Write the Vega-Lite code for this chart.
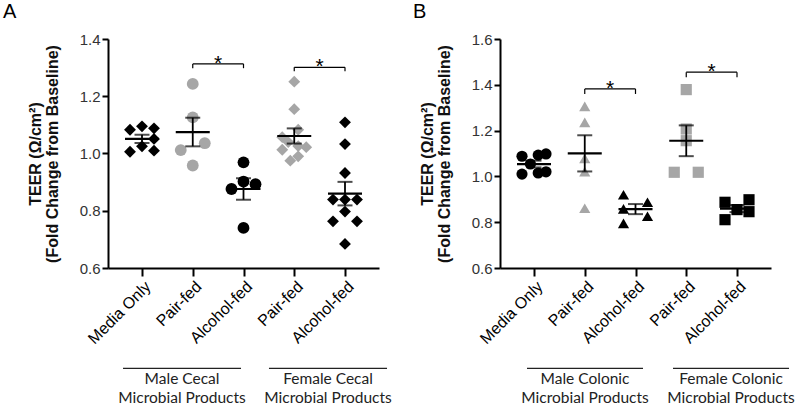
{
  "$schema": "https://vega.github.io/schema/vega-lite/v6.json",
  "padding": {"left": 3, "top": 2, "right": 0, "bottom": 0},
  "bounds": "flush",
  "spacing": 121,
  "resolve": {"scale": {"shape": "independent", "color": "independent"}},
  "config": {
    "view": {"stroke": null},
    "font": "Liberation Sans",
    "axis": {"grid": false, "domainColor": "#000", "domainWidth": 2, "tickColor": "#000", "tickWidth": 2, "labelFont": "Liberation Sans", "labelFontSize": 15, "labelColor": "#333", "titleFont": "Liberation Sans", "titleFontSize": 16, "titleFontWeight": "bold", "titleColor": "#111", "titleLineHeight": 17},
    "title": {"font": "Liberation Sans", "fontSize": 20, "fontWeight": "normal", "anchor": "start", "frame": "group", "color": "#000"}
  },
  "datasets": {
    "a": [
      {"cond": "Media", "j": -1, "v": 1.083}, {"cond": "Media", "j": 0, "v": 1.095}, {"cond": "Media", "j": 1, "v": 1.088}, {"cond": "Media", "j": 1, "v": 1.051}, {"cond": "Media", "j": 0, "v": 1.025}, {"cond": "Media", "j": -1, "v": 1.006}, {"cond": "Media", "j": 1, "v": 1.010},
      {"cond": "MP", "j": 0, "v": 1.243}, {"cond": "MP", "j": 0, "v": 1.126}, {"cond": "MP", "j": -1, "v": 1.012}, {"cond": "MP", "j": 1, "v": 1.036}, {"cond": "MP", "j": 0, "v": 0.958},
      {"cond": "MA", "j": 0, "v": 0.969}, {"cond": "MA", "j": 0, "v": 0.902}, {"cond": "MA", "j": -1, "v": 0.876}, {"cond": "MA", "j": 1, "v": 0.893}, {"cond": "MA", "j": 0, "v": 0.740},
      {"cond": "FP", "j": 0, "v": 1.251}, {"cond": "FP", "j": 0, "v": 1.155}, {"cond": "FP", "j": 0.33, "v": 1.083}, {"cond": "FP", "j": -1, "v": 1.057}, {"cond": "FP", "j": -0.5, "v": 1.040}, {"cond": "FP", "j": 0.33, "v": 1.026}, {"cond": "FP", "j": 1, "v": 1.022}, {"cond": "FP", "j": -1, "v": 1.013}, {"cond": "FP", "j": 0.33, "v": 0.990}, {"cond": "FP", "j": -0.33, "v": 0.975},
      {"cond": "FA", "j": 0, "v": 1.109}, {"cond": "FA", "j": 0, "v": 1.033}, {"cond": "FA", "j": 0, "v": 0.932}, {"cond": "FA", "j": -1, "v": 0.839}, {"cond": "FA", "j": 0, "v": 0.839}, {"cond": "FA", "j": 1, "v": 0.839}, {"cond": "FA", "j": 0, "v": 0.797}, {"cond": "FA", "j": -1, "v": 0.763}, {"cond": "FA", "j": 1, "v": 0.763}, {"cond": "FA", "j": 0, "v": 0.684}
    ],
    "b": [
      {"cond": "Media", "j": -1, "v": 1.088}, {"cond": "Media", "j": 0.35, "v": 1.093}, {"cond": "Media", "j": 1, "v": 1.098}, {"cond": "Media", "j": -0.3, "v": 1.054}, {"cond": "Media", "j": -1, "v": 1.010}, {"cond": "Media", "j": 0.35, "v": 1.015}, {"cond": "Media", "j": 1, "v": 1.020},
      {"cond": "MP", "j": 0, "v": 1.306}, {"cond": "MP", "j": 0, "v": 1.236}, {"cond": "MP", "j": 0, "v": 1.079}, {"cond": "MP", "j": 0, "v": 1.021}, {"cond": "MP", "j": 0, "v": 0.861},
      {"cond": "MA", "j": -1, "v": 0.920}, {"cond": "MA", "j": -1, "v": 0.858}, {"cond": "MA", "j": -1, "v": 0.795}, {"cond": "MA", "j": 1, "v": 0.887}, {"cond": "MA", "j": 1, "v": 0.826},
      {"cond": "FP", "j": 0, "v": 1.379}, {"cond": "FP", "j": 0, "v": 1.207}, {"cond": "FP", "j": 0, "v": 1.156}, {"cond": "FP", "j": -1, "v": 1.018}, {"cond": "FP", "j": 1, "v": 1.018},
      {"cond": "FA", "j": -1, "v": 0.887}, {"cond": "FA", "j": -1, "v": 0.811}, {"cond": "FA", "j": 0, "v": 0.855}, {"cond": "FA", "j": 1, "v": 0.898}, {"cond": "FA", "j": 1, "v": 0.846}
    ],
    "brA": [{"from": 1, "to": 2, "y": 1.313, "yb": 1.298}, {"from": 3, "to": 4, "y": 1.301, "yb": 1.287}],
    "brB": [{"from": 1, "to": 2, "y": 1.382, "yb": 1.36}, {"from": 3, "to": 4, "y": 1.455, "yb": 1.433}],
    "grpA": [{"label": "Male Cecal\nMicrobial Products", "start": -0.374, "end": 1.951}, {"label": "Female Cecal\nMicrobial Products", "start": 2.502, "end": 4.828}],
    "grpB": [{"label": "Male Colonic\nMicrobial Products", "start": -0.138, "end": 2.148}, {"label": "Female Colonic\nMicrobial Products", "start": 2.739, "end": 5.025}]
  },
  "hconcat": [
    {
      "title": {"text": "A", "dx": -105, "offset": 10},
      "width": 271,
      "height": 229,
      "resolve": {"scale": {"x": "independent"}},
      "layer": [
        {
          "data": {"name": "a"},
          "layer": [
            {
              "mark": {"type": "point", "filled": true, "opacity": 1, "size": 140},
              "encoding": {
                "x": {"field": "cond", "type": "nominal", "scale": {"type": "point", "domain": ["Media", "MP", "MA", "FP", "FA"], "padding": 0.67}, "axis": {"title": null, "labelAngle": -45, "labelExpr": "datum.value == 'Media' ? 'Media Only' : (datum.value == 'MP' || datum.value == 'FP') ? 'Pair-fed' : 'Alcohol-fed'", "tickSize": 8, "labelFontSize": 16, "labelColor": "#000", "labelPadding": 2}},
                "xOffset": {"field": "j", "type": "quantitative", "scale": {"domain": [-1, 1], "range": [-12, 12]}},
                "y": {"field": "v", "type": "quantitative", "scale": {"domain": [0.6, 1.4], "nice": false, "zero": false}, "axis": {"values": [0.6, 0.8, 1.0, 1.2, 1.4], "format": ".1f", "tickSize": 6, "labelPadding": 2, "title": ["TEER (Ω/cm²)", "(Fold Change from Baseline)"], "titlePadding": 19, "titleLineHeight": 17}},
                "color": {"field": "cond", "type": "nominal", "scale": {"domain": ["Media", "MP", "MA", "FP", "FA"], "range": ["#000000", "#a6a6a6", "#000000", "#a6a6a6", "#000000"]}, "legend": null},
                "shape": {"field": "cond", "type": "nominal", "scale": {"domain": ["Media", "MP", "MA", "FP", "FA"], "range": ["diamond", "circle", "circle", "diamond", "diamond"]}, "legend": null}
              }
            },
            {
              "mark": {"type": "errorbar", "extent": "stderr", "color": "#000", "ticks": {"size": 15, "thickness": 2}, "rule": {"strokeWidth": 1.8}},
              "encoding": {
                "x": {"field": "cond", "type": "nominal", "scale": {"type": "point", "domain": ["Media", "MP", "MA", "FP", "FA"], "padding": 0.67}, "title": null},
                "y": {"field": "v", "type": "quantitative", "scale": {"domain": [0.6, 1.4], "nice": false, "zero": false}, "title": ["TEER (Ω/cm²)", "(Fold Change from Baseline)"]}
              }
            },
            {
              "mark": {"type": "tick", "size": 34, "thickness": 2.2, "color": "#000"},
              "encoding": {
                "x": {"field": "cond", "type": "nominal", "scale": {"type": "point", "domain": ["Media", "MP", "MA", "FP", "FA"], "padding": 0.67}, "title": null},
                "y": {"aggregate": "mean", "field": "v", "type": "quantitative", "scale": {"domain": [0.6, 1.4], "nice": false, "zero": false}, "title": ["TEER (Ω/cm²)", "(Fold Change from Baseline)"]}
              }
            }
          ]
        },
        {
          "layer": [
            {
              "data": {"name": "brA"},
              "mark": {"type": "rule", "color": "#000", "strokeWidth": 1.2},
              "encoding": {
                "x": {"field": "from", "type": "quantitative", "scale": {"domain": [-0.67, 4.67], "nice": false, "zero": false}, "axis": null},
                "x2": {"field": "to"},
                "y": {"field": "y", "type": "quantitative", "scale": {"domain": [0.6, 1.4], "nice": false, "zero": false}, "title": ["TEER (Ω/cm²)", "(Fold Change from Baseline)"]}
              }
            },
            {
              "data": {"name": "brA"},
              "mark": {"type": "rule", "color": "#000", "strokeWidth": 1.2},
              "encoding": {
                "x": {"field": "from", "type": "quantitative", "scale": {"domain": [-0.67, 4.67], "nice": false, "zero": false}, "axis": null},
                "y": {"field": "y", "type": "quantitative", "scale": {"domain": [0.6, 1.4], "nice": false, "zero": false}, "title": ["TEER (Ω/cm²)", "(Fold Change from Baseline)"]},
                "y2": {"field": "yb"}
              }
            },
            {
              "data": {"name": "brA"},
              "mark": {"type": "rule", "color": "#000", "strokeWidth": 1.2},
              "encoding": {
                "x": {"field": "to", "type": "quantitative", "scale": {"domain": [-0.67, 4.67], "nice": false, "zero": false}, "axis": null},
                "y": {"field": "y", "type": "quantitative", "scale": {"domain": [0.6, 1.4], "nice": false, "zero": false}, "title": ["TEER (Ω/cm²)", "(Fold Change from Baseline)"]},
                "y2": {"field": "yb"}
              }
            },
            {
              "data": {"name": "brA"},
              "transform": [{"calculate": "(datum.from + datum.to) / 2", "as": "mid"}],
              "mark": {"type": "text", "text": "*", "font": "Liberation Sans", "fontSize": 21, "baseline": "alphabetic", "align": "center", "dy": 6, "color": "#000"},
              "encoding": {
                "x": {"field": "mid", "type": "quantitative", "scale": {"domain": [-0.67, 4.67], "nice": false, "zero": false}, "axis": null},
                "y": {"field": "y", "type": "quantitative", "scale": {"domain": [0.6, 1.4], "nice": false, "zero": false}, "title": ["TEER (Ω/cm²)", "(Fold Change from Baseline)"]}
              }
            },
            {
              "data": {"name": "grpA"},
              "mark": {"type": "rule", "color": "#222", "strokeWidth": 1.2},
              "encoding": {
                "x": {"field": "start", "type": "quantitative", "scale": {"domain": [-0.67, 4.67], "nice": false, "zero": false}, "axis": null},
                "x2": {"field": "end"},
                "y": {"datum": 0.2496, "type": "quantitative", "scale": {"domain": [0.6, 1.4], "nice": false, "zero": false}, "title": ["TEER (Ω/cm²)", "(Fold Change from Baseline)"]}
              }
            },
            {
              "data": {"name": "grpA"},
              "transform": [{"calculate": "(datum.start + datum.end) / 2", "as": "mid"}],
              "mark": {"type": "text", "font": "Lato", "fontSize": 15.5, "lineBreak": "\n", "lineHeight": 19, "baseline": "alphabetic", "align": "center", "color": "#222"},
              "encoding": {
                "x": {"field": "mid", "type": "quantitative", "scale": {"domain": [-0.67, 4.67], "nice": false, "zero": false}, "axis": null},
                "y": {"datum": 0.1948, "type": "quantitative", "scale": {"domain": [0.6, 1.4], "nice": false, "zero": false}, "title": ["TEER (Ω/cm²)", "(Fold Change from Baseline)"]},
                "text": {"field": "label", "type": "nominal"}
              }
            }
          ]
        }
      ]
    },
    {
      "title": {"text": "B", "dx": -87, "offset": 10},
      "width": 271,
      "height": 229,
      "resolve": {"scale": {"x": "independent"}},
      "layer": [
        {
          "data": {"name": "b"},
          "layer": [
            {
              "mark": {"type": "point", "filled": true, "opacity": 1, "size": 125},
              "encoding": {
                "x": {"field": "cond", "type": "nominal", "scale": {"type": "point", "domain": ["Media", "MP", "MA", "FP", "FA"], "padding": 0.67}, "axis": {"title": null, "labelAngle": -45, "labelExpr": "datum.value == 'Media' ? 'Media Only' : (datum.value == 'MP' || datum.value == 'FP') ? 'Pair-fed' : 'Alcohol-fed'", "tickSize": 8, "labelFontSize": 16, "labelColor": "#000", "labelPadding": 2}},
                "xOffset": {"field": "j", "type": "quantitative", "scale": {"domain": [-1, 1], "range": [-12, 12]}},
                "y": {"field": "v", "type": "quantitative", "scale": {"domain": [0.6, 1.6], "nice": false, "zero": false}, "axis": {"values": [0.6, 0.8, 1.0, 1.2, 1.4, 1.6], "format": ".1f", "tickSize": 6, "labelPadding": 2, "title": ["TEER (Ω/cm²)", "(Fold Change from Baseline)"], "titlePadding": 19, "titleLineHeight": 17}},
                "color": {"field": "cond", "type": "nominal", "scale": {"domain": ["Media", "MP", "MA", "FP", "FA"], "range": ["#000000", "#a6a6a6", "#000000", "#a6a6a6", "#000000"]}, "legend": null},
                "shape": {"field": "cond", "type": "nominal", "scale": {"domain": ["Media", "MP", "MA", "FP", "FA"], "range": ["circle", "triangle-up", "triangle-up", "square", "square"]}, "legend": null}
              }
            },
            {
              "mark": {"type": "errorbar", "extent": "stderr", "color": "#000", "ticks": {"size": 15, "thickness": 2}, "rule": {"strokeWidth": 1.8}},
              "encoding": {
                "x": {"field": "cond", "type": "nominal", "scale": {"type": "point", "domain": ["Media", "MP", "MA", "FP", "FA"], "padding": 0.67}, "title": null},
                "y": {"field": "v", "type": "quantitative", "scale": {"domain": [0.6, 1.6], "nice": false, "zero": false}, "title": ["TEER (Ω/cm²)", "(Fold Change from Baseline)"]}
              }
            },
            {
              "mark": {"type": "tick", "size": 34, "thickness": 2.2, "color": "#000"},
              "encoding": {
                "x": {"field": "cond", "type": "nominal", "scale": {"type": "point", "domain": ["Media", "MP", "MA", "FP", "FA"], "padding": 0.67}, "title": null},
                "y": {"aggregate": "mean", "field": "v", "type": "quantitative", "scale": {"domain": [0.6, 1.6], "nice": false, "zero": false}, "title": ["TEER (Ω/cm²)", "(Fold Change from Baseline)"]}
              }
            }
          ]
        },
        {
          "layer": [
            {
              "data": {"name": "brB"},
              "mark": {"type": "rule", "color": "#000", "strokeWidth": 1.2},
              "encoding": {
                "x": {"field": "from", "type": "quantitative", "scale": {"domain": [-0.67, 4.67], "nice": false, "zero": false}, "axis": null},
                "x2": {"field": "to"},
                "y": {"field": "y", "type": "quantitative", "scale": {"domain": [0.6, 1.6], "nice": false, "zero": false}, "title": ["TEER (Ω/cm²)", "(Fold Change from Baseline)"]}
              }
            },
            {
              "data": {"name": "brB"},
              "mark": {"type": "rule", "color": "#000", "strokeWidth": 1.2},
              "encoding": {
                "x": {"field": "from", "type": "quantitative", "scale": {"domain": [-0.67, 4.67], "nice": false, "zero": false}, "axis": null},
                "y": {"field": "y", "type": "quantitative", "scale": {"domain": [0.6, 1.6], "nice": false, "zero": false}, "title": ["TEER (Ω/cm²)", "(Fold Change from Baseline)"]},
                "y2": {"field": "yb"}
              }
            },
            {
              "data": {"name": "brB"},
              "mark": {"type": "rule", "color": "#000", "strokeWidth": 1.2},
              "encoding": {
                "x": {"field": "to", "type": "quantitative", "scale": {"domain": [-0.67, 4.67], "nice": false, "zero": false}, "axis": null},
                "y": {"field": "y", "type": "quantitative", "scale": {"domain": [0.6, 1.6], "nice": false, "zero": false}, "title": ["TEER (Ω/cm²)", "(Fold Change from Baseline)"]},
                "y2": {"field": "yb"}
              }
            },
            {
              "data": {"name": "brB"},
              "transform": [{"calculate": "(datum.from + datum.to) / 2", "as": "mid"}],
              "mark": {"type": "text", "text": "*", "font": "Liberation Sans", "fontSize": 21, "baseline": "alphabetic", "align": "center", "dy": 6, "color": "#000"},
              "encoding": {
                "x": {"field": "mid", "type": "quantitative", "scale": {"domain": [-0.67, 4.67], "nice": false, "zero": false}, "axis": null},
                "y": {"field": "y", "type": "quantitative", "scale": {"domain": [0.6, 1.6], "nice": false, "zero": false}, "title": ["TEER (Ω/cm²)", "(Fold Change from Baseline)"]}
              }
            },
            {
              "data": {"name": "grpB"},
              "mark": {"type": "rule", "color": "#222", "strokeWidth": 1.2},
              "encoding": {
                "x": {"field": "start", "type": "quantitative", "scale": {"domain": [-0.67, 4.67], "nice": false, "zero": false}, "axis": null},
                "x2": {"field": "end"},
                "y": {"datum": 0.162, "type": "quantitative", "scale": {"domain": [0.6, 1.6], "nice": false, "zero": false}, "title": ["TEER (Ω/cm²)", "(Fold Change from Baseline)"]}
              }
            },
            {
              "data": {"name": "grpB"},
              "transform": [{"calculate": "(datum.start + datum.end) / 2", "as": "mid"}],
              "mark": {"type": "text", "font": "Lato", "fontSize": 15.5, "lineBreak": "\n", "lineHeight": 19, "baseline": "alphabetic", "align": "center", "color": "#222"},
              "encoding": {
                "x": {"field": "mid", "type": "quantitative", "scale": {"domain": [-0.67, 4.67], "nice": false, "zero": false}, "axis": null},
                "y": {"datum": 0.0934, "type": "quantitative", "scale": {"domain": [0.6, 1.6], "nice": false, "zero": false}, "title": ["TEER (Ω/cm²)", "(Fold Change from Baseline)"]},
                "text": {"field": "label", "type": "nominal"}
              }
            }
          ]
        }
      ]
    }
  ]
}
